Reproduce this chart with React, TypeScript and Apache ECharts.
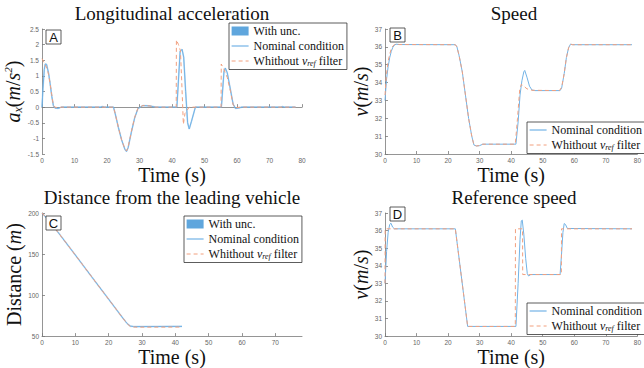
import React, { useEffect, useRef } from "react";
import * as echarts from "echarts";

const SERIF = "Liberation Serif";
const SANS = "Liberation Sans";
const NOM = "Nominal condition";
const DASH = "Whithout vref filter";
const UNC = "With unc.";

// Panel A: longitudinal acceleration
const A_NOM_T = [0, 0.3, 0.7, 1.0, 1.4, 2.0, 2.5, 3.0, 3.5, 4.0, 5.0, 6.0, 18, 18.6, 19.2, 22, 22.5, 23.5, 24.5, 25.5, 26.0, 26.5, 27.5, 28.5, 29.5, 31, 33, 35, 41.5, 42.5, 43.1, 43.6, 44.2, 44.8, 45.3, 46.0, 47.2, 55.2, 56.0, 56.4, 57.0, 58.0, 58.8, 59.5, 60.5, 61.5, 73.5, 74, 74.5, 78];
const A_NOM_V = [0, 0.6, 1.2, 1.38, 1.37, 1.1, 0.75, 0.35, 0.05, -0.03, -0.04, 0, 0, 0.02, 0, 0, -0.2, -0.65, -1.05, -1.35, -1.42, -1.3, -0.8, -0.35, -0.05, 0.05, 0.04, 0, 0, 1.78, 1.85, 1.6, 0.5, -0.5, -0.7, -0.45, 0, 0, 1.15, 1.25, 1.1, 0.55, 0.1, -0.04, -0.03, 0, 0, 0.02, 0, 0];
const A_DASH_T = [0, 0.5, 1.0, 1.5, 2.0, 2.5, 3.0, 3.5, 4.0, 5, 6, 22, 22.5, 23.5, 24.5, 25.5, 26.0, 26.5, 27.5, 28.5, 29.5, 31, 33, 35, 41.3, 41.35, 42.0, 42.6, 43.0, 43.5, 44.0, 45.3, 55.1, 55.15, 56.0, 57.0, 58.0, 58.8, 59.5, 61, 78];
const A_DASH_V = [1.55, 1.45, 1.35, 1.25, 1.05, 0.75, 0.4, 0.05, 0, -0.02, 0, 0, -0.2, -0.65, -1.05, -1.33, -1.4, -1.28, -0.78, -0.33, -0.04, 0.05, 0.04, 0, 0, 2.15, 2.0, 1.8, 0.8, -0.55, -0.2, 0, 0, 1.38, 1.2, 0.95, 0.5, 0.08, -0.02, 0, 0];

// Panel B: speed
const B_NOM_T = [0, 0.5, 1.0, 1.5, 2.0, 2.5, 3.0, 3.5, 4.5, 22.3, 22.8, 23.5, 24.5, 25.5, 26.5, 27.5, 28.2, 29, 30, 31, 41.5, 42.2, 42.8, 43.4, 44.0, 44.3, 45.0, 45.8, 46.6, 47.5, 55.5, 56.0, 56.8, 57.5, 58.2, 58.8, 59.5, 78.3];
const B_NOM_V = [33.0, 34.2, 34.9, 35.4, 35.75, 35.98, 36.1, 36.15, 36.13, 36.12, 36.0, 35.5, 34.6, 33.3, 32.0, 31.0, 30.5, 30.45, 30.47, 30.55, 30.55, 31.8, 33.3, 34.1, 34.6, 34.68, 34.3, 33.8, 33.58, 33.55, 33.55, 33.7, 34.5, 35.4, 35.95, 36.15, 36.12, 36.12];
const B_DASH_T = [0, 0.5, 1.0, 1.5, 2.0, 2.5, 3.0, 3.5, 4.5, 22.3, 22.8, 23.5, 24.5, 25.5, 26.5, 27.5, 28.2, 29, 30, 31, 41.3, 42.0, 42.7, 43.2, 44.0, 45.0, 46.5, 55.3, 56.0, 56.8, 57.5, 58.2, 58.8, 59.5, 78.3];
const B_DASH_V = [33.3, 34.5, 35.2, 35.6, 35.9, 36.05, 36.13, 36.15, 36.13, 36.12, 36.0, 35.5, 34.6, 33.3, 32.0, 31.0, 30.5, 30.45, 30.47, 30.55, 30.55, 32.0, 33.6, 33.9, 33.8, 33.65, 33.57, 33.55, 33.75, 34.5, 35.4, 35.95, 36.15, 36.12, 36.12];

// Panel C: distance from the leading vehicle
const C_NOM_T = [0, 1, 5, 10, 15, 20, 24, 25.5, 26.5, 27.5, 42];
const C_NOM_V = [200, 195.6, 175.5, 148.8, 121.8, 94.9, 73.3, 65.5, 62.2, 61.6, 61.8];
const C_DASH_T = [0, 1, 5, 10, 15, 20, 24, 25.5, 26.5, 28, 42];
const C_DASH_V = [200, 195.6, 175.5, 148.8, 121.8, 94.9, 73.3, 65.3, 61.6, 60.9, 61.0];

// Panel D: reference speed
const D_NOM_T = [0, 0.5, 1.0, 1.5, 1.9, 2.4, 3.0, 22.3, 26.2, 41.5, 42.2, 42.8, 43.2, 43.5, 44.0, 44.6, 45.1, 45.5, 46.2, 55.5, 55.9, 56.4, 56.8, 57.2, 57.8, 78.3];
const D_NOM_V = [33.0, 34.8, 35.9, 36.35, 36.42, 36.2, 36.1, 36.1, 30.55, 30.55, 33.0, 35.5, 36.55, 36.6, 35.8, 34.4, 33.55, 33.42, 33.5, 33.5, 34.5, 35.9, 36.4, 36.35, 36.12, 36.1];
const D_DASH_T = [0, 0.05, 22.3, 26.2, 41.3, 41.35, 43.6, 43.65, 55.9, 55.95, 78.3];
const D_DASH_V = [33.0, 36.1, 36.1, 30.55, 30.55, 36.1, 36.1, 33.5, 33.5, 36.1, 36.1];

const zip = (t: number[], v: number[]) => t.map((x, i) => [x, v[i]]);

const C_BLUE = "#72b3e6";
const C_UNC = "#5fa6dd";
const C_ORANGE = "#f2a07f";
const AXIS_C = "#7a7a7a";

const GRIDS = [
  { left: 42, top: 29, width: 260, height: 125 },
  { left: 385, top: 29, width: 258, height: 125 },
  { left: 42, top: 213, width: 260, height: 125 },
  { left: 385, top: 213, width: 258, height: 125 },
];

const nameRich = {
  n: { fontFamily: SERIF, fontSize: 20, fontWeight: "normal", color: "#111" },
  i: { fontFamily: SERIF, fontSize: 20, fontStyle: "italic", color: "#111" },
  s: { fontFamily: SERIF, fontSize: 12, fontStyle: "italic", color: "#111", padding: [10, 0, 0, 0] },
  p: { fontFamily: SERIF, fontSize: 11, fontStyle: "italic", color: "#111", padding: [0, 0, 10, 0] },
};

function xAxis(gi: number, max: number, showMax = true) {
  return {
    type: "value",
    gridIndex: gi,
    min: 0,
    max,
    interval: 10,
    name: "{n|Time (s)}",
    nameLocation: "middle",
    nameGap: 3,
    nameTextStyle: { fontFamily: SERIF, fontSize: 20, fontWeight: "normal", color: "#111", verticalAlign: "top", rich: nameRich },
    axisLine: { show: true, lineStyle: { color: AXIS_C, width: 0.8 } },
    axisTick: { show: true, inside: true, length: 3, lineStyle: { color: AXIS_C, width: 0.8 } },
    axisLabel: { fontSize: 6.5, color: "#666", fontFamily: SANS, margin: 3, showMaxLabel: showMax },
    splitLine: { show: false },
  };
}

function yAxis(gi: number, min: number, max: number, interval: number, name: string, gap: number) {
  return {
    type: "value",
    gridIndex: gi,
    min,
    max,
    interval,
    name,
    nameLocation: "middle",
    nameRotate: 90,
    nameGap: gap,
    nameTextStyle: { fontFamily: SERIF, fontSize: 20, fontWeight: "normal", color: "#111", rich: nameRich },
    axisLine: { show: true, lineStyle: { color: AXIS_C, width: 0.8 } },
    axisTick: { show: true, inside: true, length: 3, lineStyle: { color: AXIS_C, width: 0.8 } },
    axisLabel: { fontSize: 6.5, color: "#666", fontFamily: SANS, margin: 3 },
    splitLine: { show: false },
  };
}

function line(name: string, gi: number, data: number[][], color: string, dashed: boolean, width = 1, opacity = 1, z = 2) {
  return {
    type: "line",
    name,
    xAxisIndex: gi,
    yAxisIndex: gi,
    data,
    symbol: "none",
    z,
    itemStyle: { color },
    lineStyle: { color, width, type: dashed ? [4, 3] : "solid", opacity },
  };
}

const legendTextStyle = {
  fontFamily: SERIF,
  fontSize: 12,
  color: "#111",
  rich: {
    t: { fontFamily: SERIF, fontSize: 12, fontWeight: "normal", color: "#111" },
    i: { fontFamily: SERIF, fontSize: 12, fontStyle: "italic", color: "#111" },
    sub: { fontFamily: SERIF, fontSize: 8, fontStyle: "italic", color: "#111", padding: [5, 0, 0, 0] },
  },
};

function legend(left: number, top: number, withUnc: boolean) {
  const data: any[] = [];
  if (withUnc) data.push({ name: UNC, icon: "rect", itemStyle: { color: C_UNC, opacity: 1 } });
  data.push({ name: NOM, itemStyle: { opacity: 0 }, lineStyle: { width: 1.2 } });
  data.push({ name: DASH, itemStyle: { opacity: 0 }, lineStyle: { width: 1 } });
  return {
    left,
    top,
    orient: "vertical",
    data,
    itemWidth: 17,
    itemHeight: 9,
    itemGap: 3,
    padding: [2, 3, 2, 2],
    backgroundColor: "#fff",
    borderColor: "#333",
    borderWidth: 0.8,
    borderRadius: 0,
    selectedMode: false,
    textStyle: legendTextStyle,
    formatter: (n: string) => (n === DASH ? "{t|Whithout }{i|v}{sub|ref}{t| filter}" : "{t|" + n + "}"),
  };
}

function letter(ch: string, x: number, y: number) {
  return [
    { type: "rect", z: 100, shape: { x, y, width: 15, height: 14 }, style: { fill: "#fff", stroke: "#333", lineWidth: 0.8 } },
    { type: "text", z: 101, x: x + 7.5, y: y + 7.5, style: { text: ch, fontSize: 13, fontFamily: SANS, fill: "#111", align: "center", verticalAlign: "middle" } },
  ];
}

function title(text: string, cx: number, top: number) {
  return {
    text: "{t|" + text + "}",
    left: cx,
    top,
    padding: 0,
    textAlign: "center",
    textStyle: {
      fontFamily: SERIF,
      fontSize: 18,
      fontWeight: "normal",
      color: "#111",
      rich: { t: { fontFamily: SERIF, fontSize: 19, fontWeight: "normal", color: "#111" } },
    },
  };
}

export default function App() {
  const ref = useRef<HTMLDivElement>(null);
  useEffect(() => {
    if (!ref.current) return;
    const chart = echarts.init(ref.current, undefined, { renderer: "svg" });
    const option: any = {
      animation: false,
      backgroundColor: "#fff",
      textStyle: { fontFamily: SERIF },
      title: [
        title("Longitudinal acceleration", 172, 4),
        title("Speed", 514, 4),
        title("Distance from the leading vehicle", 172, 188),
        title("Reference speed", 514, 188),
      ],
      grid: GRIDS,
      xAxis: [xAxis(0, 80), xAxis(1, 80), xAxis(2, 78, false), xAxis(3, 80)],
      yAxis: [
        yAxis(0, -1.5, 2.5, 0.5, "{i|a}{s|x}{n|(}{i|m}{n|/}{i|s}{p|2}{n|)}", 15),
        yAxis(1, 30, 37, 1, "{i|v}{n|(}{i|m}{n|/}{i|s}{n|)}", 13),
        yAxis(2, 50, 200, 50, "{n|Distance (}{i|m}{n|)}", 16),
        yAxis(3, 30, 37, 1, "{i|v}{n|(}{i|m}{n|/}{i|s}{n|)}", 13),
      ],
      legend: [legend(229, 23, true), legend(527, 122, false), legend(184, 216, true), legend(527, 303, false)],
      series: [
        line(UNC, 0, zip(A_NOM_T, A_NOM_V), C_UNC, false, 1.6, 0.4, 1),
        line(NOM, 0, zip(A_NOM_T, A_NOM_V), C_BLUE, false),
        line(DASH, 0, zip(A_DASH_T, A_DASH_V), C_ORANGE, true, 1, 1, 3),
        line(NOM, 1, zip(B_NOM_T, B_NOM_V), C_BLUE, false),
        line(DASH, 1, zip(B_DASH_T, B_DASH_V), C_ORANGE, true, 1, 1, 3),
        line(UNC, 2, zip(C_NOM_T, C_NOM_V), C_UNC, false, 1.6, 0.4, 1),
        line(NOM, 2, zip(C_NOM_T, C_NOM_V), C_BLUE, false),
        line(DASH, 2, zip(C_DASH_T, C_DASH_V), C_ORANGE, true, 1, 1, 3),
        line(NOM, 3, zip(D_NOM_T, D_NOM_V), C_BLUE, false),
        line(DASH, 3, zip(D_DASH_T, D_DASH_V), C_ORANGE, true, 1, 1, 3),
      ],
      graphic: [
        ...letter("A", 46, 30),
        ...letter("B", 390, 28),
        ...letter("C", 46, 216),
        ...letter("D", 390, 207),
      ],
    };
    chart.setOption(option);
    return () => chart.dispose();
  }, []);
  return <div ref={ref} style={{ position: "fixed", left: 0, top: 0, width: 644, height: 368 }} />;
}
